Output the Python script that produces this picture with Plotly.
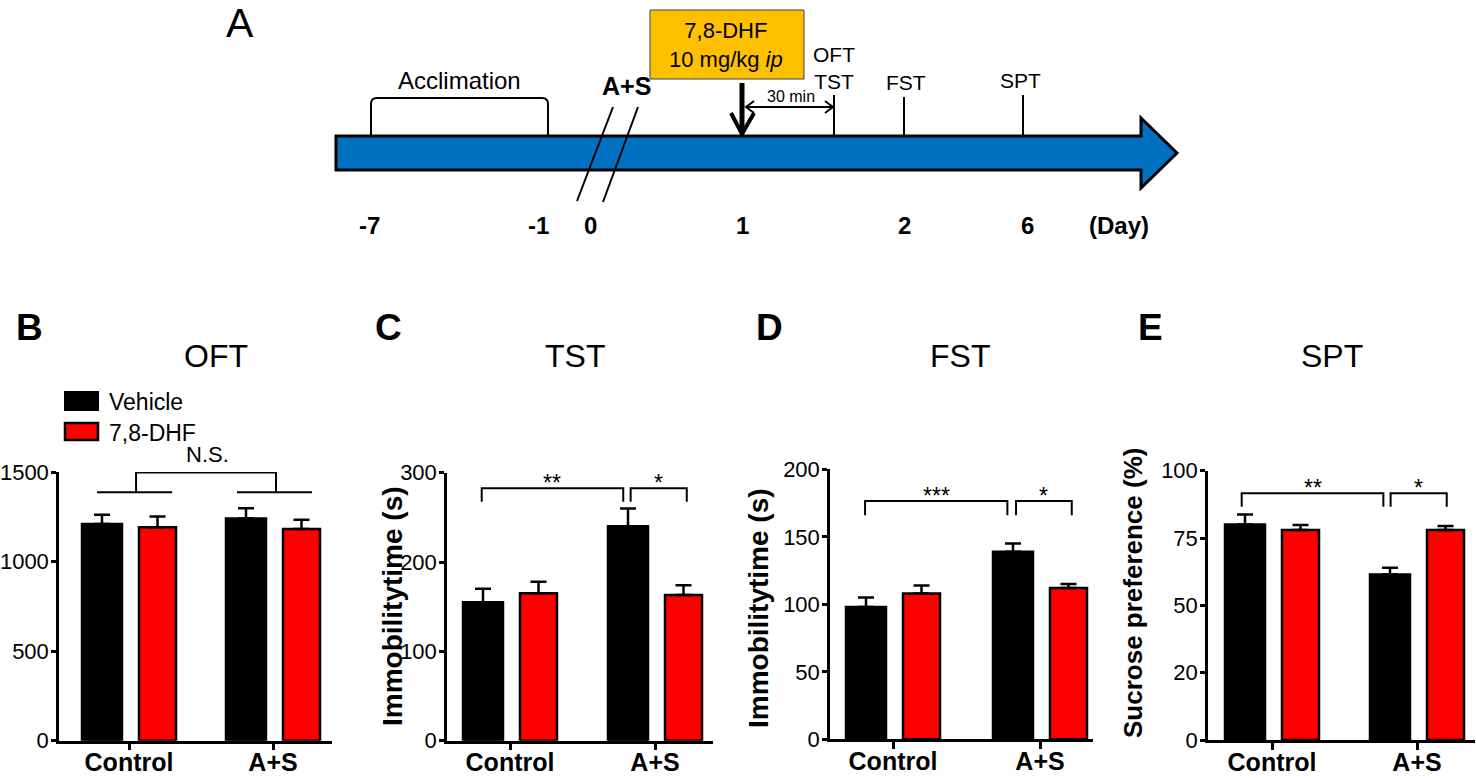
import plotly.graph_objects as go

W, H = 1476, 778
FONT = "Arial, Liberation Sans, sans-serif"

# ---------------- data ----------------
categories = ["Control", "A+S"]
series_names = ["Vehicle", "7,8-DHF"]

oft_vehicle = [1210, 1240]
oft_vehicle_err = [52, 58]
oft_dhf = [1192, 1182]
oft_dhf_err = [60, 52]

tst_vehicle = [155, 240]
tst_vehicle_err = [15, 20]
tst_dhf = [165, 163]
tst_dhf_err = [13, 11]

fst_vehicle = [98, 139]
fst_vehicle_err = [7, 6]
fst_dhf = [108, 112]
fst_dhf_err = [6, 3]

spt_vehicle = [80, 61.5]
spt_vehicle_err = [3.7, 2.5]
spt_dhf = [78, 78]
spt_dhf_err = [1.8, 1.5]

oft_tickvals = [0, 500, 1000, 1500]
tst_tickvals = [0, 100, 200, 300]
fst_tickvals = [0, 50, 100, 150, 200]
spt_tickvals = [0, 25, 50, 75, 100]
spt_ticktext = ["0", "20", "50", "75", "100"]

panel_letters = ["B", "C", "D", "E"]
panel_titles = ["OFT", "TST", "FST", "SPT"]
y_titles = ["", "Immobilitytime (s)", "Immobilitytime (s)", "Sucrose preference (%)"]

sig_left = ["N.S.", "**", "***", "**"]
sig_right = ["", "*", "*", "*"]

# timeline text
timeline_letter = "A"
day_labels = ["-7", "-1", "0", "1", "2", "6", "(Day)"]
event_labels = ["OFT<br>TST", "FST", "SPT"]
phase_label = "Acclimation"
stress_label = "A+S"
drug_label = "7,8-DHF<br>10 mg/kg <i>ip</i>"
interval_label = "30 min"

# ---------------- layout geometry (pixels) ----------------
panels = [
    dict(L=59, R=332, t0=129, t1=273, top=472, zero=740.7, ymax=1500,
         tv=oft_tickvals, tt=[str(v) for v in oft_tickvals],
         veh=oft_vehicle, veh_e=oft_vehicle_err, dhf=oft_dhf, dhf_e=oft_dhf_err,
         title_x=216, letter_x=29, ytitle_x=None, ytitle_y=None, ytitle_size=28),
    dict(L=447, R=713, t0=510, t1=655, top=472.7, zero=740.7, ymax=300,
         tv=tst_tickvals, tt=[str(v) for v in tst_tickvals],
         veh=tst_vehicle, veh_e=tst_vehicle_err, dhf=tst_dhf, dhf_e=tst_dhf_err,
         title_x=575, letter_x=388, ytitle_x=392, ytitle_y=606, ytitle_size=28),
    dict(L=830, R=1093, t0=893, t1=1040, top=469.3, zero=739.3, ymax=200,
         tv=fst_tickvals, tt=[str(v) for v in fst_tickvals],
         veh=fst_vehicle, veh_e=fst_vehicle_err, dhf=fst_dhf, dhf_e=fst_dhf_err,
         title_x=960, letter_x=769, ytitle_x=758, ytitle_y=608, ytitle_size=28),
    dict(L=1208, R=1475, t0=1272, t1=1417, top=470.7, zero=740, ymax=100,
         tv=spt_tickvals, tt=spt_ticktext,
         veh=spt_vehicle, veh_e=spt_vehicle_err, dhf=spt_dhf, dhf_e=spt_dhf_err,
         title_x=1332, letter_x=1150, ytitle_x=1133, ytitle_y=593, ytitle_size=26),
]
# bar edges in px relative to category tick
VEH_PX = (-47, -7)
DHF_PX = (10, 47)

# significance brackets (category units / data units)
brackets = [
    None,
    dict(y=282.5, leg=267.5, a=(-0.195, 0.781), b=(0.832, 1.219)),
    dict(y=176.6, leg=166, a=(-0.19, 0.778), b=(0.837, 1.216)),
    dict(y=91.6, leg=86.6, a=(-0.209, 0.768), b=(0.818, 1.205)),
]


def px(x):
    return x / W


def py(y):
    return 1 - y / H


def P(x, y):
    return f"{px(x):.5f},{py(y):.5f}"


fig = go.Figure()
shapes = []
annotations = []

for i, p in enumerate(panels):
    n = "" if i == 0 else str(i + 1)
    xa, ya = "x" + n, "y" + n
    unit = p["t1"] - p["t0"]
    rng = [(p["L"] - p["t0"]) / unit, (p["R"] - p["t0"]) / unit]
    for vals, errs, color, edges, name in [
        (p["veh"], p["veh_e"], "#000000", VEH_PX, series_names[0]),
        (p["dhf"], p["dhf_e"], "#FF0000", DHF_PX, series_names[1]),
    ]:
        fig.add_trace(go.Bar(
            x=categories, y=vals, name=name, xaxis=xa, yaxis=ya,
            offset=edges[0] / unit, width=(edges[1] - edges[0]) / unit,
            marker=dict(color=color, line=dict(color="black", width=2.5)),
            error_y=dict(type="data", symmetric=False, array=errs,
                         arrayminus=[0] * len(errs), color="black",
                         thickness=2.5, width=8),
            showlegend=False, hoverinfo="skip",
        ))
    fig.update_layout(**{
        "xaxis" + n: dict(
            domain=[px(p["L"]), px(p["R"])], anchor=ya, type="category",
            range=rng, showline=True, linewidth=2.5, linecolor="black",
            ticks="outside", ticklen=7, tickwidth=2.5, tickcolor="black",
            ticklabelstandoff=-9,
            showgrid=False, zeroline=False, fixedrange=True, automargin=False,
            tickfont=dict(family=FONT, size=25, color="black", weight="bold"),
        ),
        "yaxis" + n: dict(
            domain=[py(p["zero"]), py(p["top"])], anchor=xa,
            range=[0, p["ymax"]], showline=True, linewidth=2.5,
            linecolor="black", ticks="outside", ticklen=5, tickwidth=2.5,
            tickcolor="black", tickvals=p["tv"], ticktext=p["tt"],
            ticklabelstandoff=-2,
            showgrid=False, zeroline=False, fixedrange=True, automargin=False,
            tickfont=dict(family=FONT, size=22, color="black"),
        ),
    })
    # panel letter and title
    annotations.append(dict(x=px(p["letter_x"]), y=py(328), xref="paper", yref="paper",
                            text="<b>%s</b>" % panel_letters[i], showarrow=False,
                            xanchor="center", yanchor="middle",
                            font=dict(family=FONT, size=37, color="black")))
    annotations.append(dict(x=px(p["title_x"]), y=py(356), xref="paper", yref="paper",
                            text=panel_titles[i], showarrow=False,
                            xanchor="center", yanchor="middle",
                            font=dict(family=FONT, size=32, color="black")))
    if p["ytitle_x"] is not None:
        annotations.append(dict(x=px(p["ytitle_x"]), y=py(p["ytitle_y"]), xref="paper",
                                yref="paper", text="<b>%s</b>" % y_titles[i],
                                showarrow=False, textangle=-90,
                                xanchor="center", yanchor="middle",
                                font=dict(family=FONT, size=p["ytitle_size"], color="black")))
    b = brackets[i]
    if b is not None:
        for (x0, x1), lab in [(b["a"], sig_left[i]), (b["b"], sig_right[i])]:
            shapes.append(dict(type="path", xref=xa, yref=ya,
                               path=f"M {x0},{b['leg']} L {x0},{b['y']} L {x1},{b['y']} L {x1},{b['leg']}",
                               line=dict(color="black", width=2)))
            annotations.append(dict(x=(x0 + x1) / 2, y=b["y"], xref=xa, yref=ya,
                                    text=lab, showarrow=False, xanchor="center",
                                    yanchor="middle", yshift=5,
                                    font=dict(family=FONT, size=23, color="black")))

# Panel B: N.S. brackets
nsy_low, nsy_high = 1387, 1497
for x0, x1 in [(-0.222, 0.3), (0.75, 1.271)]:
    shapes.append(dict(type="line", xref="x", yref="y", x0=x0, x1=x1, y0=nsy_low, y1=nsy_low,
                       line=dict(color="black", width=2)))
shapes.append(dict(type="path", xref="x", yref="y",
                   path=f"M 0.049,{nsy_low} L 0.049,{nsy_high} L 1.021,{nsy_high} L 1.021,{nsy_low}",
                   line=dict(color="black", width=2)))
annotations.append(dict(x=px(207), y=py(455), xref="paper", yref="paper", text=sig_left[0],
                        showarrow=False, xanchor="center", yanchor="middle",
                        font=dict(family=FONT, size=22, color="black")))

# Panel B legend
shapes.append(dict(type="rect", xref="paper", yref="paper", x0=px(65), x1=px(98),
                   y0=py(410), y1=py(392), fillcolor="black", line=dict(color="black", width=2)))
shapes.append(dict(type="rect", xref="paper", yref="paper", x0=px(65), x1=px(98),
                   y0=py(440), y1=py(423), fillcolor="#FF0000", line=dict(color="black", width=2.5)))
for label, yy in [(series_names[0], 402), (series_names[1], 433)]:
    annotations.append(dict(x=px(107), y=py(yy), xref="paper", yref="paper", text=label,
                            showarrow=False, xanchor="left", yanchor="middle",
                            font=dict(family=FONT, size=23, color="black")))

# ---------------- timeline (panel A) ----------------
BLUE = "#0070C0"
arrow_path = "M " + " L ".join(P(x, y) for x, y in [
    (336, 136), (1141, 136), (1141, 118), (1177, 153), (1141, 188), (1141, 170), (336, 170)]) + " Z"
shapes.append(dict(type="path", xref="paper", yref="paper", path=arrow_path,
                   fillcolor=BLUE, line=dict(color="black", width=3)))
# acclimation bracket
shapes.append(dict(type="path", xref="paper", yref="paper",
                   path=f"M {P(371,135)} L {P(371,104)} Q {P(371,98)} {P(377,98)} L {P(542,98)} "
                        f"Q {P(548,98)} {P(548,104)} L {P(548,135)}",
                   line=dict(color="black", width=2)))
# break slashes
for (x0, y0, x1, y1) in [(613, 107, 577, 201), (638, 107, 603, 202)]:
    shapes.append(dict(type="line", xref="paper", yref="paper", x0=px(x0), y0=py(y0),
                       x1=px(x1), y1=py(y1), line=dict(color="black", width=2)))
# drug box
shapes.append(dict(type="rect", xref="paper", yref="paper", x0=px(650), x1=px(804),
                   y0=py(79), y1=py(10), fillcolor="#FFC000", line=dict(color="#404040", width=1)))
# injection arrow
shapes.append(dict(type="line", xref="paper", yref="paper", x0=px(742), x1=px(742),
                   y0=py(83), y1=py(130), line=dict(color="black", width=5)))
shapes.append(dict(type="path", xref="paper", yref="paper",
                   path=f"M {P(731,113)} L {P(742,134)} L {P(754,113)}",
                   line=dict(color="black", width=4)))
# 30 min double arrow
shapes.append(dict(type="line", xref="paper", yref="paper", x0=px(746), x1=px(833),
                   y0=py(107), y1=py(107), line=dict(color="black", width=2)))
shapes.append(dict(type="path", xref="paper", yref="paper",
                   path=f"M {P(754,101)} L {P(746,107)} L {P(754,113)}",
                   line=dict(color="black", width=2)))
shapes.append(dict(type="path", xref="paper", yref="paper",
                   path=f"M {P(825,101)} L {P(833,107)} L {P(825,113)}",
                   line=dict(color="black", width=2)))
# event ticks
for x, ytop in [(834, 95), (904, 97), (1023, 95)]:
    shapes.append(dict(type="line", xref="paper", yref="paper", x0=px(x), x1=px(x),
                       y0=py(ytop), y1=py(136), line=dict(color="black", width=2)))

# timeline texts
annotations.append(dict(x=px(240), y=1, xref="paper", yref="paper", text=timeline_letter,
                        showarrow=False, xanchor="center", yanchor="top", yshift=2,
                        font=dict(family=FONT, size=41, color="black")))
annotations.append(dict(x=px(460), y=py(81), xref="paper", yref="paper", text=phase_label,
                        showarrow=False, xanchor="center", yanchor="middle",
                        font=dict(family=FONT, size=24, color="black")))
annotations.append(dict(x=px(626), y=py(86), xref="paper", yref="paper",
                        text="<b>%s</b>" % stress_label, showarrow=False,
                        xanchor="center", yanchor="middle",
                        font=dict(family=FONT, size=25, color="black")))
annotations.append(dict(x=px(726), y=py(45), xref="paper", yref="paper", text=drug_label,
                        showarrow=False, xanchor="center", yanchor="middle",
                        font=dict(family=FONT, size=22, color="black")))
annotations.append(dict(x=px(791), y=py(97), xref="paper", yref="paper", text=interval_label,
                        showarrow=False, xanchor="center", yanchor="middle",
                        font=dict(family=FONT, size=16, color="black")))
for lab, x, y in zip(event_labels, [834, 906, 1020], [68, 82, 81]):
    annotations.append(dict(x=px(x), y=py(y), xref="paper", yref="paper", text=lab,
                            showarrow=False, xanchor="center", yanchor="middle",
                            font=dict(family=FONT, size=21, color="black")))
for lab, x in zip(day_labels, [369, 538, 590, 742, 904, 1027, 1119]):
    annotations.append(dict(x=px(x), y=py(225), xref="paper", yref="paper",
                            text="<b>%s</b>" % lab, showarrow=False,
                            xanchor="center", yanchor="middle",
                            font=dict(family=FONT, size=24, color="black")))

fig.update_layout(
    width=W, height=H, margin=dict(l=0, r=0, t=0, b=0, autoexpand=False),
    paper_bgcolor="white", plot_bgcolor="white",
    barmode="overlay", showlegend=False, hovermode=False,
    shapes=shapes, annotations=annotations,
    font=dict(family=FONT, color="black"),
)

fig.write_html("out.html", config={"displayModeBar": False},
               post_script="document.body.style.margin='0px';document.body.style.overflow='hidden';")
